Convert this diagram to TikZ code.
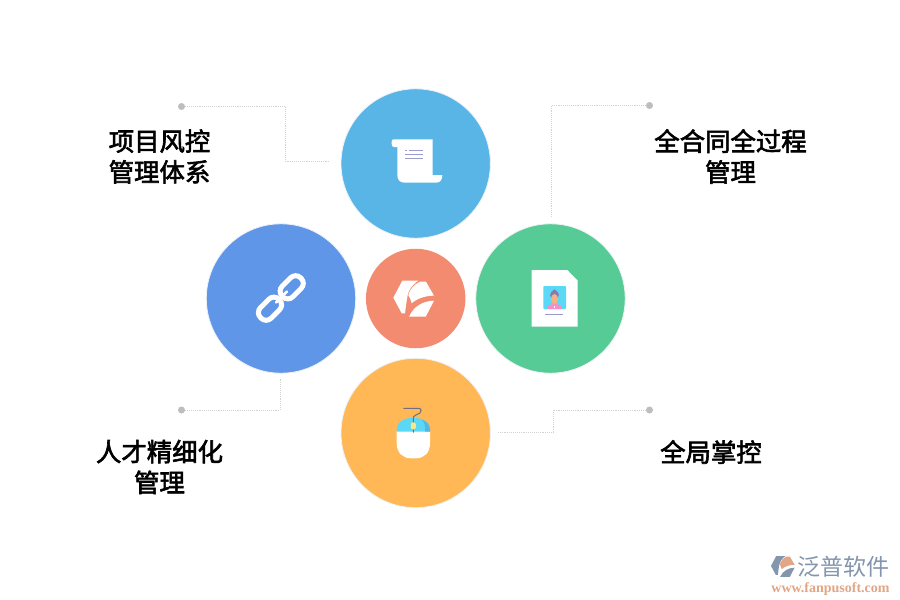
\documentclass[tikz,border=0pt]{standalone}
\usepackage{fontspec}
\newfontfamily\cjk{Noto Sans CJK SC}
\newfontfamily\cjkb{Noto Sans CJK SC}[FakeBold=2.4]
\setmainfont{Liberation Serif}
\definecolor{cTop}{HTML}{58B5E6}
\definecolor{cLeft}{HTML}{5F96E8}
\definecolor{cRight}{HTML}{56CB95}
\definecolor{cBot}{HTML}{FFB855}
\definecolor{cMid}{HTML}{F38B70}
\definecolor{cRing}{HTML}{EEF1F5}
\definecolor{cLine}{HTML}{D2D2D2}
\definecolor{cDot}{HTML}{BDBDBD}
\definecolor{cPurp}{HTML}{9C9BD0}
\definecolor{cCyan}{HTML}{5AD8F5}
\definecolor{cPink}{HTML}{F48FC8}
\definecolor{cHair}{HTML}{8A78B0}
\definecolor{cSkin}{HTML}{F4B183}
\definecolor{cBlueD}{HTML}{54B7E8}
\definecolor{cCord}{HTML}{6F6F80}
\definecolor{cWheel}{HTML}{FCE588}
\definecolor{cWmA}{HTML}{8496AE}
\definecolor{cWmB}{HTML}{E2A585}
\tikzset{
  x=1pt,y=-1pt,
  bigdisc/.style={circle,minimum size=149.4pt,inner sep=0pt,draw=cRing,line width=0.8pt},
  middisc/.style={circle,minimum size=99.5pt,inner sep=0pt,fill=cMid},
  enddot/.style={circle,fill=cDot,minimum size=7pt,inner sep=0pt},
  leader/.style={draw=cLine,line width=0.9pt,densely dotted},
  label/.style={font=\cjkb\fontsize{25.4}{30.8}\selectfont,align=center,text=black,inner sep=0pt},
  iconw/.style={fill=white,draw=none},
}
\begin{document}
\begin{tikzpicture}
\useasboundingbox (0,0) rectangle (900,600);
\fill[white] (0,0) rectangle (900,600);

% discs
\node[bigdisc,fill=cTop] (top) at (415.7,163.5) {};
\node[bigdisc,fill=cLeft] (left) at (281,298.5) {};
\node[bigdisc,fill=cRight] (right) at (550.5,298.5) {};
\node[bigdisc,fill=cBot] (bottom) at (415.7,433) {};
\node[middisc] (mid) at (415.7,298.5) {};

% leader dots and ends
\node[enddot] (d1) at (181.5,106.5) {};
\node[enddot] (d2) at (649.5,105.5) {};
\node[enddot] (d3) at (181.5,410) {};
\node[enddot] (d4) at (649.5,410) {};
\coordinate (e1) at (330,161);
\coordinate (e2) at (551,217);
\coordinate (e3) at (280,379);
\coordinate (e4) at (497,432);
\draw[leader] (d1) -- (285,106.5) -- (285,161) -- (e1);
\draw[leader] (d2) -- (551,105.5) -- (e2);
\draw[leader] (d3) -- (280,410) -- (e3);
\draw[leader] (d4) -- (553,410) -- (553,432) -- (e4);

% labels
\node[label] (t1) at (159.5,156.5) {项目风控\\管理体系};
\node[label] (t2) at (730.5,156.5) {全合同全过程\\管理};
\node[label] (t3) at (159.5,467) {人才精细化\\管理};
\node[label] (t4) at (711,452) {全局掌控};

% scroll icon
\fill[iconw] (394,139.3) -- (432.7,139.3) -- (432.7,175) -- (442.3,175)
  .. controls (442.3,180) and (440,182.7) .. (436,182.7) -- (405,182.7)
  .. controls (400,182.7) and (397.3,180) .. (397.3,175) -- (397.3,147)
  -- (394,147) .. controls (392.5,147) and (391.7,146) .. (391.7,144)
  -- (391.7,141.5) .. controls (391.7,140) and (392.5,139.3) .. (394,139.3) -- cycle;
\draw[cPurp,line width=0.9pt] (409,150.5) -- (423,150.5) (405,154.5) -- (423,154.5) (405,158.5) -- (423,158.5);
\fill[cPurp] (405,149.8) rectangle (407,151.2);

% chain icon
\begin{scope}[rotate around={45:(291.7,287.3)}]
  \draw[white,line width=5pt,rounded corners=7pt] (291.7-13,287.3-7.5) rectangle (291.7+13,287.3+7.5);
\end{scope}
\begin{scope}[rotate around={45:(270,308.7)}]
  \draw[white,line width=5pt,rounded corners=7pt] (270-13,308.7-7.5) rectangle (270+13,308.7+7.5);
\end{scope}
\draw[white,line width=2.6pt,line cap=round] (276,302.5) -- (287,291.5);

% centre logo
\fill[white] (402.3,280.7) -- (418.3,280.7) .. controls (412,285) and (408.7,290) .. (407.7,295)
  .. controls (406.5,301) and (405.7,308) .. (405,313.3) -- (401.7,313.3) -- (393.3,297.7) -- cycle;
\fill[white] (420,281.7) -- (426,281.7) -- (434,295.7) .. controls (426,295.5) and (417,298.5) .. (411.7,303.3)
  .. controls (411,300) and (409.5,297) .. (408.3,295) .. controls (410,289) and (414,284.5) .. (420,281.7) -- cycle;
\fill[white] (434,300.7) -- (425.7,316.7) -- (409,316.7) .. controls (414,306) and (423,301) .. (434,300.7) -- cycle;

% document icon
\fill[iconw] (531.7,270) -- (567.3,270) -- (577.7,280.7) -- (577.7,326.7) -- (531.7,326.7) -- cycle;
\fill[cCyan,rounded corners=0.8pt] (543.3,286) rectangle (566,309);
\fill[cPink] (547,309) .. controls (547.5,305.5) and (550,304) .. (554.5,304) .. controls (559,304) and (561.5,305.5) .. (562,309) -- cycle;
\fill[cHair] (554.5,295) circle (4.4);
\fill[cHair] (554.5,291.5) circle (2);
\fill[cSkin] (554.5,299) ellipse (3.6 and 5);
\fill[white] (553.8,305.5) rectangle (555.2,307.5);
\draw[cPurp,line width=1.4pt] (545.3,314.7) -- (563.3,314.7);

% mouse icon
\fill[white] (396.7,431) -- (430,431) -- (430,443)
  .. controls (430,453) and (424,458.3) .. (416,458.3) -- (411,458.3) .. controls (403,458.3) and (396.7,453) .. (396.7,443) -- cycle;
\fill[cCyan] (396.7,431.7) -- (396.7,430) .. controls (396.7,423) and (403,417.7) .. (413.3,417.7) .. controls (423.7,417.7) and (430,423) .. (430,430) -- (430,431.7) -- cycle;
\fill[cBlueD] (422,419.8) .. controls (427,421.5) and (430,425) .. (430,430) -- (430,431.7) -- (425,431.7) .. controls (425.5,427) and (425,423) .. (422,419.8) -- cycle;
\draw[cCord,line width=1pt] (403.3,408.3) -- (418.5,408.3) .. controls (421.5,408.3) and (422,411.5) .. (420,413) -- (415,415.5) .. controls (413.5,416.3) and (413.3,417) .. (413.3,419) -- (413.3,432.5);
\fill[cWheel,rounded corners=1.5pt] (410.8,422.3) rectangle (415.8,429.3);

% watermark
\begin{scope}[shift={(783,566.5)},scale=0.58,shift={(-414,-298.7)}]
  \fill[cWmA] (402.3,280.7) -- (418.3,280.7) .. controls (412,285) and (408.7,290) .. (407.7,295)
    .. controls (406.5,301) and (405.7,308) .. (405,313.3) -- (401.7,313.3) -- (393.3,297.7) -- cycle;
  \fill[cWmB] (420,281.7) -- (426,281.7) -- (434,295.7) .. controls (426,295.5) and (417,298.5) .. (411.7,303.3)
    .. controls (411,300) and (409.5,297) .. (408.3,295) .. controls (410,289) and (414,284.5) .. (420,281.7) -- cycle;
  \fill[cWmA] (434,300.7) -- (425.7,316.7) -- (409,316.7) .. controls (414,306) and (423,301) .. (434,300.7) -- cycle;
\end{scope}
\node[font=\cjk\fontsize{23}{23}\selectfont,text=cWmA,inner sep=0pt] (wm1) at (843.5,567) {泛普软件};
\node[font=\bfseries\fontsize{14}{14}\selectfont,text=cWmB,inner sep=0pt] (wm2) at (830.5,589) {www.fanpusoft.com};
\end{tikzpicture}
\end{document}
